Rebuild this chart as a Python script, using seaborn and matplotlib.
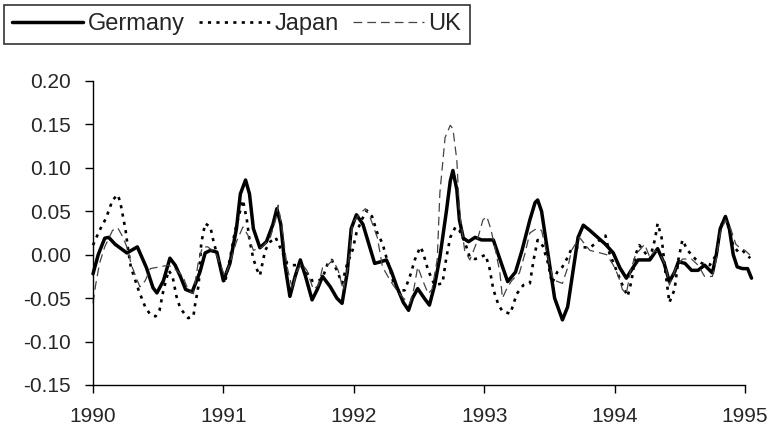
import numpy as np
import pandas as pd
import matplotlib
matplotlib.use("Agg")
import matplotlib.pyplot as plt
import seaborn as sns

# values (decimal years)
germany_t = [1990.00, 1990.04, 1990.09, 1990.12, 1990.17, 1990.26, 1990.34, 1990.41, 1990.46, 1990.49,
             1990.54, 1990.59, 1990.63, 1990.67, 1990.71, 1990.76, 1990.82, 1990.86, 1990.90, 1990.95,
             1991.00, 1991.05, 1991.10, 1991.13, 1991.17, 1991.20, 1991.23, 1991.28, 1991.33, 1991.38,
             1991.41, 1991.44, 1991.47, 1991.51, 1991.55, 1991.59, 1991.63, 1991.68, 1991.72, 1991.76,
             1991.82, 1991.87, 1991.91, 1991.95, 1991.98, 1992.02, 1992.07, 1992.12, 1992.16, 1992.21,
             1992.25, 1992.29, 1992.33, 1992.38, 1992.42, 1992.45, 1992.49, 1992.54, 1992.58, 1992.62,
             1992.66, 1992.71, 1992.74, 1992.76, 1992.79, 1992.81, 1992.84, 1992.88, 1992.93, 1992.98,
             1993.03, 1993.07, 1993.12, 1993.18, 1993.24, 1993.29, 1993.35, 1993.39, 1993.41, 1993.44,
             1993.49, 1993.54, 1993.60, 1993.64, 1993.68, 1993.72, 1993.76, 1993.81, 1993.87, 1993.93,
             1993.99, 1994.04, 1994.09, 1994.14, 1994.18, 1994.23, 1994.27, 1994.33, 1994.38, 1994.42,
             1994.46, 1994.49, 1994.54, 1994.59, 1994.64, 1994.69, 1994.75, 1994.78, 1994.81, 1994.85,
             1994.88, 1994.91, 1994.94, 1994.98, 1995.02, 1995.05]
germany = [-0.022, 0.000, 0.019, 0.020, 0.012, 0.002, 0.009, -0.015, -0.038, -0.044,
           -0.030, -0.004, -0.012, -0.025, -0.040, -0.043, -0.020, 0.002, 0.005, 0.003,
           -0.030, -0.010, 0.030, 0.070, 0.086, 0.070, 0.030, 0.008, 0.015, 0.035,
           0.053, 0.035, -0.010, -0.048, -0.025, -0.006, -0.025, -0.052, -0.040, -0.025,
           -0.037, -0.050, -0.056, -0.020, 0.030, 0.046, 0.035, 0.010, -0.010, -0.008,
           -0.006, -0.020, -0.037, -0.055, -0.064, -0.050, -0.039, -0.050, -0.058, -0.035,
           -0.003, 0.050, 0.085, 0.097, 0.075, 0.040, 0.019, 0.015, 0.020, 0.017,
           0.017, 0.017, -0.005, -0.031, -0.020, 0.005, 0.040, 0.060, 0.063, 0.050,
           0.000, -0.050, -0.075, -0.060, -0.020, 0.020, 0.034, 0.028, 0.020, 0.012,
           0.002, -0.015, -0.027, -0.015, -0.006, -0.006, -0.006, 0.007, -0.010, -0.031,
           -0.020, -0.008, -0.010, -0.018, -0.018, -0.012, -0.021, 0.000, 0.030, 0.044,
           0.030, 0.000, -0.014, -0.016, -0.016, -0.027]

japan_t = [1990.00, 1990.05, 1990.10, 1990.15, 1990.19, 1990.21, 1990.25, 1990.27, 1990.29, 1990.35,
           1990.40, 1990.44, 1990.48, 1990.51, 1990.54, 1990.58, 1990.61, 1990.64, 1990.67, 1990.73,
           1990.77, 1990.78, 1990.81, 1990.83, 1990.86, 1990.90, 1990.92, 1990.96, 1991.01, 1991.05,
           1991.09, 1991.13, 1991.15, 1991.18, 1991.20, 1991.23, 1991.26, 1991.28, 1991.32, 1991.36,
           1991.40, 1991.43, 1991.49, 1991.53, 1991.59, 1991.63, 1991.68, 1991.73, 1991.76, 1991.80,
           1991.83, 1991.87, 1991.91, 1991.95, 1991.99, 1992.02, 1992.06, 1992.10, 1992.14, 1992.18,
           1992.22, 1992.25, 1992.28, 1992.30, 1992.34, 1992.39, 1992.43, 1992.47, 1992.51, 1992.53,
           1992.57, 1992.62, 1992.68, 1992.71, 1992.74, 1992.78, 1992.81, 1992.85, 1992.89, 1992.93,
           1992.97, 1993.01, 1993.04, 1993.07, 1993.11, 1993.14, 1993.20, 1993.25, 1993.30, 1993.35,
           1993.38, 1993.41, 1993.45, 1993.49, 1993.52, 1993.56, 1993.60, 1993.64, 1993.67, 1993.73,
           1993.81, 1993.87, 1993.93, 1993.96, 1994.02, 1994.06, 1994.10, 1994.13, 1994.16, 1994.19,
           1994.23, 1994.27, 1994.31, 1994.33, 1994.36, 1994.39, 1994.42, 1994.46, 1994.49, 1994.52,
           1994.56, 1994.62, 1994.67, 1994.73, 1994.78, 1994.81, 1994.84, 1994.88, 1994.91, 1994.95,
           1994.98, 1995.04]
japan = [0.011, 0.028, 0.042, 0.063, 0.069, 0.060, 0.028, 0.005, -0.014, -0.041,
         -0.060, -0.069, -0.071, -0.064, -0.041, -0.018, -0.025, -0.048, -0.062, -0.073,
         -0.071, -0.060, -0.035, 0.013, 0.036, 0.032, 0.018, -0.005, -0.033, -0.005,
         0.028, 0.051, 0.063, 0.040, 0.017, -0.005, -0.018, -0.024, 0.005, 0.015,
         0.020, 0.010, -0.010, -0.012, -0.012, -0.018, -0.030, -0.030, -0.027, -0.010,
         -0.006, -0.018, -0.033, -0.010, 0.005, 0.025, 0.040, 0.051, 0.044, 0.025,
         0.013, -0.003, -0.018, -0.030, -0.041, -0.041, -0.025, -0.005, 0.009, 0.003,
         -0.018, -0.035, -0.033, -0.003, 0.020, 0.032, 0.028, 0.015, -0.003, -0.005,
         -0.003, 0.000, -0.015, -0.040, -0.058, -0.065, -0.068, -0.045, -0.035, -0.033,
         -0.005, 0.017, 0.010, -0.010, -0.033, -0.020, -0.014, -0.003, 0.007, 0.009,
         0.008, 0.015, 0.022, 0.002, -0.020, -0.035, -0.048, -0.030, 0.000, 0.011,
         0.003, -0.005, 0.018, 0.036, 0.020, -0.020, -0.055, -0.040, -0.005, 0.017,
         0.005, -0.005, -0.010, -0.012, 0.000, 0.030, 0.042, 0.030, 0.010, 0.003,
         0.005, -0.004]

uk_t = [1990.00, 1990.02, 1990.05, 1990.09, 1990.15, 1990.19, 1990.23, 1990.27, 1990.29, 1990.33,
        1990.36, 1990.40, 1990.44, 1990.51, 1990.58, 1990.64, 1990.69, 1990.73, 1990.77, 1990.81,
        1990.84, 1990.88, 1990.94, 1990.98, 1991.01, 1991.05, 1991.10, 1991.15, 1991.19, 1991.23,
        1991.30, 1991.36, 1991.40, 1991.42, 1991.45, 1991.49, 1991.53, 1991.56, 1991.60, 1991.64,
        1991.69, 1991.73, 1991.76, 1991.80, 1991.84, 1991.88, 1991.92, 1991.96, 1991.99, 1992.05,
        1992.09, 1992.12, 1992.18, 1992.22, 1992.28, 1992.33, 1992.38, 1992.43, 1992.46, 1992.49,
        1992.53, 1992.57, 1992.60, 1992.64, 1992.66, 1992.70, 1992.74, 1992.76, 1992.79, 1992.81,
        1992.85, 1992.89, 1992.94, 1992.99, 1993.02, 1993.05, 1993.08, 1993.12, 1993.14, 1993.17,
        1993.21, 1993.27, 1993.31, 1993.35, 1993.40, 1993.44, 1993.48, 1993.53, 1993.60, 1993.64,
        1993.67, 1993.73, 1993.81, 1993.89, 1993.94, 1993.99, 1994.03, 1994.06, 1994.09, 1994.12,
        1994.16, 1994.19, 1994.23, 1994.27, 1994.31, 1994.35, 1994.39, 1994.42, 1994.47, 1994.52,
        1994.59, 1994.64, 1994.69, 1994.75, 1994.78, 1994.81, 1994.85, 1994.89, 1994.93, 1994.96,
        1995.00, 1995.05]
uk = [-0.056, -0.035, -0.010, 0.009, 0.028, 0.031, 0.020, 0.005, -0.010, -0.026,
      -0.037, -0.030, -0.016, -0.014, -0.012, -0.018, -0.025, -0.041, -0.045, -0.006,
      0.009, 0.009, 0.002, -0.012, -0.025, -0.010, 0.015, 0.032, 0.022, 0.005,
      0.009, 0.020, 0.040, 0.057, 0.030, -0.015, -0.040, -0.020, -0.010, -0.018,
      -0.040, -0.035, -0.015, -0.012, -0.006, -0.018, -0.041, -0.010, 0.036, 0.048,
      0.053, 0.045, 0.020, -0.014, -0.030, -0.041, -0.050, -0.056, -0.040, -0.014,
      -0.030, -0.045, -0.040, -0.005, 0.071, 0.135, 0.149, 0.145, 0.109, 0.051,
      0.005, -0.006, 0.013, 0.040, 0.044, 0.030, 0.010, -0.020, -0.050, -0.040,
      -0.030, -0.021, 0.000, 0.025, 0.030, 0.028, 0.002, -0.029, -0.033, -0.015,
      0.005, 0.020, 0.005, 0.002, 0.000, -0.012, -0.025, -0.040, -0.045, -0.020,
      0.000, 0.005, 0.012, -0.003, 0.005, 0.000, -0.012, -0.035, -0.015, -0.005,
      -0.005, -0.012, -0.025, -0.025, -0.005, 0.025, 0.040, 0.030, 0.012, 0.008,
      0.005, -0.002]

x_ticks = [1990, 1991, 1992, 1993, 1994, 1995]
y_ticks = [-0.15, -0.10, -0.05, 0.00, 0.05, 0.10, 0.15, 0.20]

sns.set_style("ticks")
plt.rcParams['font.family'] = ['Liberation Sans', 'DejaVu Sans']

fig = plt.figure(figsize=(7.72, 4.30), dpi=100)
ax = fig.add_axes([93 / 772, 1 - 385 / 430, (745 - 93) / 772, (385 - 81) / 430])

sns.lineplot(x=germany_t, y=germany, ax=ax, label='Germany', color='black',
             lw=2.5, clip_on=False, sort=False)
sns.lineplot(x=japan_t, y=japan, ax=ax, label='Japan', color='black',
             lw=1.9, linestyle=(0, (1.2, 2.0)), clip_on=False, sort=False)
sns.lineplot(x=uk_t, y=uk, ax=ax, label='UK', color='#444444',
             lw=0.9, linestyle=(0, (7, 4)), clip_on=False, sort=False)

ax.set_xlim(1990, 1995)
ax.set_ylim(-0.15, 0.20)
ax.set_xticks(x_ticks)
ax.set_yticks(y_ticks)
ax.set_yticklabels([f'{v:.2f}' for v in y_ticks])
ax.tick_params(axis='both', labelsize=15, length=6, width=1, pad=10, color='black')
ax.set_xlabel('')
ax.set_ylabel('')
sns.despine(ax=ax)
for s in ['left', 'bottom']:
    ax.spines[s].set_color('black')
    ax.spines[s].set_linewidth(1)

handles, labels = ax.get_legend_handles_labels()
ax.get_legend().remove()
leg = fig.legend(handles, labels, loc='upper left', bbox_to_anchor=(4 / 772, 1 - 5 / 430),
                 ncol=3, fontsize=17, frameon=True, fancybox=False, borderaxespad=0,
                 handlelength=3.0, handletextpad=0.2, columnspacing=0.6, borderpad=0.35)
leg.get_frame().set_edgecolor('black')
leg.get_frame().set_linewidth(1.2)

fig.savefig('out.png', dpi=100)
